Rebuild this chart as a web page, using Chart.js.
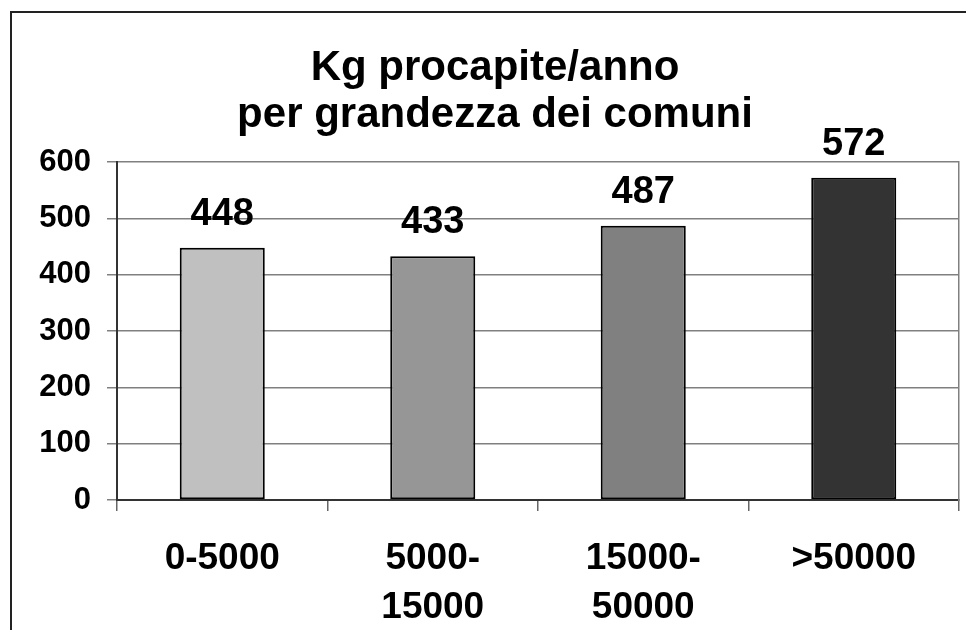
<!DOCTYPE html>
<html>
<head>
<meta charset="utf-8">
<script src="https://cdn.jsdelivr.net/npm/chart.js@4"></script>
<style>
  html, body { margin: 0; padding: 0; background: #fff; overflow: hidden; }
  #wrap { position: relative; width: 966px; height: 630px; overflow: hidden; }
  #cornice {
    position: absolute; left: 10px; top: 11px; width: 2000px; height: 2000px;
    border-left: 2px solid #222; border-top: 2px solid #222; pointer-events: none;
  }
  canvas { position: absolute; left: 0; top: 0; }
</style>
</head>
<body>
<div id="wrap">
  <canvas id="grafico" width="990" height="630"></canvas>
  <div id="cornice"></div>
</div>
<script>
const categorie = [['0-5000'], ['5000-', '15000'], ['15000-', '50000'], ['>50000']];
const valori = [448, 433, 487, 572];
const colori = ['#c0c0c0', '#969696', '#808080', '#333333'];
const titolo = ['Kg procapite/anno', 'per grandezza dei comuni'];
const tickY = [0, 100, 200, 300, 400, 500, 600];

const FONT = '"Liberation Sans", Arial, sans-serif';

// etichette sopra le barre
const etichette = {
    id: 'etichette',
    afterDatasetsDraw(chart) {
        const c = chart.ctx;
        const meta = chart.getDatasetMeta(0);
        c.save();
        c.font = 'bold 38px ' + FONT;
        c.fillStyle = '#000';
        c.textAlign = 'center';
        c.textBaseline = 'alphabetic';
        meta.data.forEach((bar, i) => {
            c.fillText(String(valori[i]), bar.x, bar.y - 23);
        });
        c.restore();
    }
};

const ctx = document.getElementById('grafico').getContext('2d');
const grafico = new Chart(ctx, {
    type: 'bar',
    data: {
        labels: categorie,
        datasets: [{
            data: valori,
            backgroundColor: colori,
            borderColor: '#000',
            borderWidth: 2,
            borderSkipped: false,
            categoryPercentage: 1,
            barPercentage: 0.404,
            yAxisID: 'y'
        }]
    },
    options: {
        responsive: false,
        animation: false,
        devicePixelRatio: 1,
        layout: { padding: { top: 45, left: 0, right: 0, bottom: 0 } },
        plugins: {
            legend: { display: false },
            tooltip: { enabled: false },
            title: {
                display: true,
                text: titolo,
                color: '#000',
                font: { family: FONT, size: 42, weight: 'bold', lineHeight: 1.12 },
                padding: { top: 0, bottom: 23 }
            }
        },
        scales: {
            x: {
                offset: true,
                grid: {
                    offset: true,
                    drawOnChartArea: false,
                    drawTicks: true,
                    tickLength: 11,
                    color: '#666',
                    lineWidth: 1.5
                },
                border: { display: true, color: '#333', width: 2 },
                ticks: {
                    color: '#000',
                    padding: 23,
                    maxRotation: 0,
                    autoSkip: false,
                    font: { family: FONT, size: 37, weight: 'bold', lineHeight: 1.33 }
                },
                afterFit(scale) { scale.height = 130; }
            },
            y: {
                position: 'left',
                min: 0,
                max: 600,
                afterBuildTicks(scale) { scale.ticks = tickY.map(v => ({ value: v })); },
                grid: {
                    color: '#808080',
                    lineWidth: 1.5,
                    tickLength: 10
                },
                border: { display: true, color: '#333', width: 2 },
                ticks: {
                    color: '#000',
                    padding: 16,
                    font: { family: FONT, size: 31, weight: 'bold' }
                },
                afterFit(scale) { scale.width = 117; }
            },
            destra: {
                position: 'right',
                min: 0,
                max: 600,
                grid: { display: false },
                ticks: { display: false },
                border: { display: true, color: '#808080', width: 1.5 },
                afterFit(scale) { scale.width = 31; }
            }
        }
    },
    plugins: [etichette]
});
</script>
</body>
</html>
